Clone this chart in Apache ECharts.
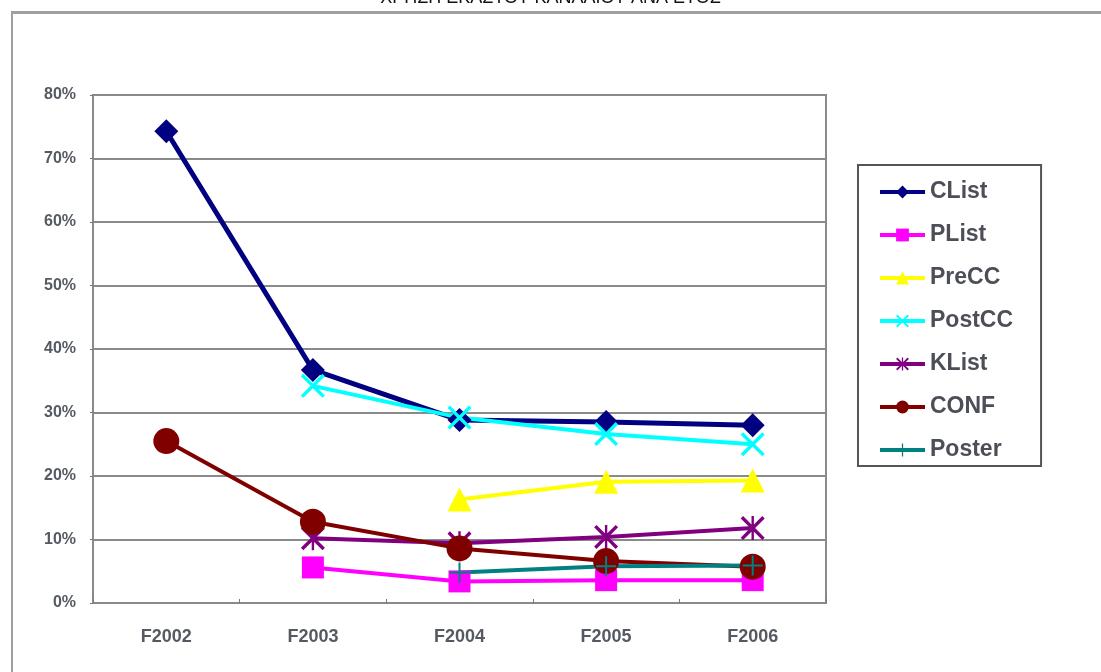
<!DOCTYPE html>
<html>
<head>
<meta charset="utf-8">
<script src="https://cdn.jsdelivr.net/npm/echarts@6/dist/echarts.min.js"></script>
<style>
  html, body { margin: 0; padding: 0; background: #fff; }
  #wrap { position: relative; width: 1101px; height: 672px; overflow: hidden; }
  #chart { width: 1101px; height: 672px; }
  #frame { position: absolute; left: 11px; top: 11px; width: 1200px; height: 800px;
           border-top: 3px solid #a0a0a0; border-left: 2px solid #a0a0a0; pointer-events: none; }
</style>
</head>
<body>
<div id="wrap">
  <div id="chart"></div>
  <div id="frame"></div>
</div>
<script>
// 年度分类
const years = ['F2002', 'F2003', 'F2004', 'F2005', 'F2006'];
// 各渠道使用比例 (%)
const clist  = [74.3, 36.7, 28.8, 28.5, 28.0];
const plist  = [null, 5.6, 3.4, 3.6, 3.6];
const precc  = [null, null, 16.3, 19.1, 19.3];
const postcc = [null, 34.2, 29.2, 26.6, 25.0];
const klist  = [null, 10.2, 9.4, 10.4, 11.8];
const conf   = [25.5, 12.8, 8.6, 6.6, 5.7];
const poster = [null, null, 4.8, 5.8, 5.9];

const titleText = 'ΧΡΗΣΗ ΕΚΑΣΤΟΥ ΚΑΝΑΛΙΟΥ ΑΝΑ ΕΤΟΣ';

// 自定义符号
const symX = 'path://M0,1 L1,0 L5,4 L9,0 L10,1 L6,5 L10,9 L9,10 L5,6 L1,10 L0,9 L4,5 Z';
const symStar = 'path://M0,1 L1,0 L5,4 L9,0 L10,1 L6,5 L10,9 L9,10 L5,6 L1,10 L0,9 L4,5 Z M4.5,0 L5.5,0 L5.5,10 L4.5,10 Z';
const symPlus = 'path://M4.5,0 L5.5,0 L5.5,4.5 L10,4.5 L10,5.5 L5.5,5.5 L5.5,10 L4.5,10 L4.5,5.5 L0,5.5 L0,4.5 L4.5,4.5 Z';

function mkSeries(name, data, color, symbol, size, width) {
    return {
        name: name,
        type: 'line',
        data: data,
        symbol: symbol,
        symbolSize: size,
        showAllSymbol: true,
        itemStyle: { color: color },
        lineStyle: { color: color, width: width },
        emphasis: { disabled: true }
    };
}

const chartObj = echarts.init(document.getElementById('chart'));
chartObj.setOption({
    animation: false,
    backgroundColor: '#fff',
    title: {
        text: titleText,
        left: 'center',
        top: -16,
        textStyle: { fontSize: 18, fontWeight: 'normal', color: '#111', fontFamily: 'Liberation Sans' }
    },
    grid: {
        left: 93,
        top: 95,
        right: 275,
        bottom: 69,
        show: true,
        borderColor: '#8a8a8a',
        borderWidth: 2
    },
    legend: {
        orient: 'vertical',
        left: 858,
        top: 165,
        padding: [15, 28, 4, 20],
        itemWidth: 45,
        itemHeight: 16,
        itemGap: 19,
        borderColor: '#555',
        borderWidth: 2,
        lineStyle: { width: 4 },
        textStyle: { fontSize: 23, lineHeight: 24, fontWeight: 'bold', color: '#4d4f58', fontFamily: 'Liberation Sans' },
        data: ['CList', 'PList', 'PreCC', 'PostCC', 'KList', 'CONF', 'Poster']
    },
    xAxis: {
        type: 'category',
        data: years,
        boundaryGap: true,
        axisLine: { lineStyle: { color: '#8a8a8a', width: 2 } },
        axisTick: { show: true, inside: true, length: 4, lineStyle: { color: '#777' } },
        axisLabel: { fontSize: 18, fontWeight: 'bold', color: '#555a62', margin: 25, fontFamily: 'Liberation Sans' }
    },
    yAxis: {
        type: 'value',
        min: 0,
        max: 80,
        interval: 10,
        axisLine: { show: true, lineStyle: { color: '#8a8a8a', width: 2 } },
        axisTick: { show: true, length: 3, lineStyle: { color: '#777' } },
        splitLine: { lineStyle: { color: '#8a8a8a', width: 2 } },
        axisLabel: { formatter: '{value}%', fontSize: 16, fontWeight: 'bold', color: '#555a62', margin: 17, fontFamily: 'Liberation Sans' }
    },
    series: [
        mkSeries('CList', clist, '#000080', 'diamond', 24, 5),
        mkSeries('PList', plist, '#FF00FF', 'rect', 22, 4),
        mkSeries('PreCC', precc, '#FFFF00', 'triangle', 24, 4),
        mkSeries('PostCC', postcc, '#00FFFF', symX, 24, 4),
        mkSeries('KList', klist, '#800080', symStar, 24, 4),
        mkSeries('CONF', conf, '#800000', 'circle', 26, 4),
        mkSeries('Poster', poster, '#008080', symPlus, 20, 4)
    ]
});
</script>
</body>
</html>
